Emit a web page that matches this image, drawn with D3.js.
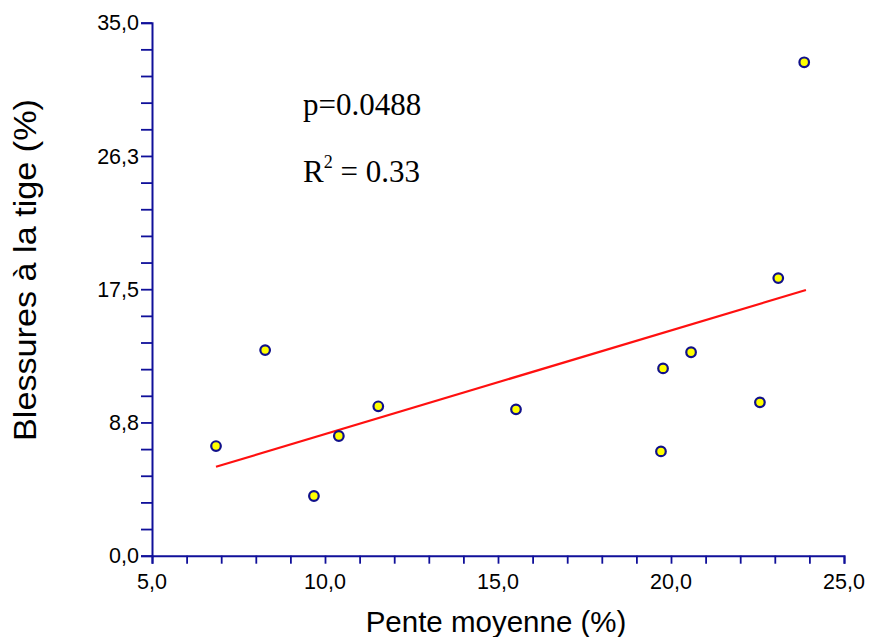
<!DOCTYPE html>
<html>
<head>
<meta charset="utf-8">
<script src="https://cdn.jsdelivr.net/npm/d3@7"></script>
<style>
  body { margin: 0; background: #fff; }
  svg { display: block; }
</style>
</head>
<body>
<div class="chart"></div>
<script>
const width = 869;
const height = 637;

// mean slope (%) vs stem injuries (%)
const pente = [6.85, 8.27, 9.68, 10.4, 11.54, 15.52, 19.71, 19.77, 20.58, 22.57, 23.1, 23.85];
const blessures = [7.2, 13.5, 3.92, 7.86, 9.81, 9.61, 6.85, 12.3, 13.36, 10.07, 18.23, 32.4];

// regression line ends
const fitX = [6.85, 23.9];
const fitY = [5.84, 17.45];

const xTicks = [5, 10, 15, 20, 25];
const xTickLabels = ["5,0", "10,0", "15,0", "20,0", "25,0"];
const yTicks = [0, 8.75, 17.5, 26.25, 35];
const yTickLabels = ["0,0", "8,8", "17,5", "26,3", "35,0"];

const axisColor = "#10109a";

const svg = d3.select('.chart').append('svg')
    .attr('width', width)
    .attr('height', height);

const x = d3.scaleLinear().domain([5, 25]).range([152, 844]);
const y = d3.scaleLinear().domain([0, 35]).range([555.7, 22.7]);

// minor ticks: 5 per major interval
const xMinor = d3.range(0, 21).map(i => 5 + i);
const yMinor = d3.range(0, 21).map(i => i * 35 / 20);

const xAxis = svg.append('g')
    .attr('transform', `translate(0,${y(0)})`)
    .call(d3.axisBottom(x).tickValues(xMinor).tickSize(8).tickFormat(''));

const yAxis = svg.append('g')
    .attr('transform', `translate(${x(5)},0)`)
    .call(d3.axisLeft(y).tickValues(yMinor).tickSize(11).tickFormat(''));

[xAxis, yAxis].forEach(g => {
    g.select('.domain').attr('stroke', axisColor).attr('stroke-width', 2);
    g.selectAll('.tick line').attr('stroke', axisColor).attr('stroke-width', 1.8);
});

// tick labels
svg.append('g').selectAll('text')
    .data(xTicks)
    .enter()
    .append('text')
    .attr('x', d => x(d))
    .attr('y', 588.5)
    .attr('text-anchor', 'middle')
    .style('font-family', 'Liberation Sans, Arial, sans-serif')
    .style('font-size', '21.5px')
    .text((d, i) => xTickLabels[i]);

svg.append('g').selectAll('text')
    .data(yTicks)
    .enter()
    .append('text')
    .attr('x', 139)
    .attr('y', d => y(d) + 7.7)
    .attr('text-anchor', 'end')
    .style('font-family', 'Liberation Sans, Arial, sans-serif')
    .style('font-size', '21.5px')
    .text((d, i) => yTickLabels[i]);

// axis titles
svg.append('text')
    .attr('x', 496)
    .attr('y', 631.5)
    .attr('text-anchor', 'middle')
    .style('font-family', 'Liberation Sans, Arial, sans-serif')
    .style('font-size', '29.5px')
    .text('Pente moyenne (%)');

svg.append('text')
    .attr('transform', 'translate(36,270) rotate(-90)')
    .attr('text-anchor', 'middle')
    .attr('textLength', 342)
    .attr('lengthAdjust', 'spacingAndGlyphs')
    .style('font-family', 'Liberation Sans, Arial, sans-serif')
    .style('font-size', '31px')
    .text('Blessures à la tige (%)');

// regression line
const line = d3.line()
    .x(d => x(d[0]))
    .y(d => y(d[1]));

svg.append('path')
    .datum(d3.zip(fitX, fitY))
    .attr('d', line)
    .attr('fill', 'none')
    .attr('stroke', '#ff1010')
    .attr('stroke-width', 2.2);

// points
svg.append('g').selectAll('circle')
    .data(d3.zip(pente, blessures))
    .enter()
    .append('circle')
    .attr('cx', d => x(d[0]))
    .attr('cy', d => y(d[1]))
    .attr('r', 4.8)
    .attr('fill', '#ffff00')
    .attr('stroke', '#10108a')
    .attr('stroke-width', 2.2);

// stats annotation
const note = svg.append('g')
    .style('font-family', 'Liberation Serif, Times New Roman, serif')
    .style('font-size', '31px');

note.append('text')
    .attr('x', 303)
    .attr('y', 115)
    .text('p=0.0488');

const r2 = note.append('text')
    .attr('x', 303)
    .attr('y', 182);
r2.append('tspan').text('R');
r2.append('tspan').attr('dy', -14).style('font-size', '18px').text('2');
r2.append('tspan').attr('dy', 14).text(' = 0.33');
</script>
</body>
</html>
